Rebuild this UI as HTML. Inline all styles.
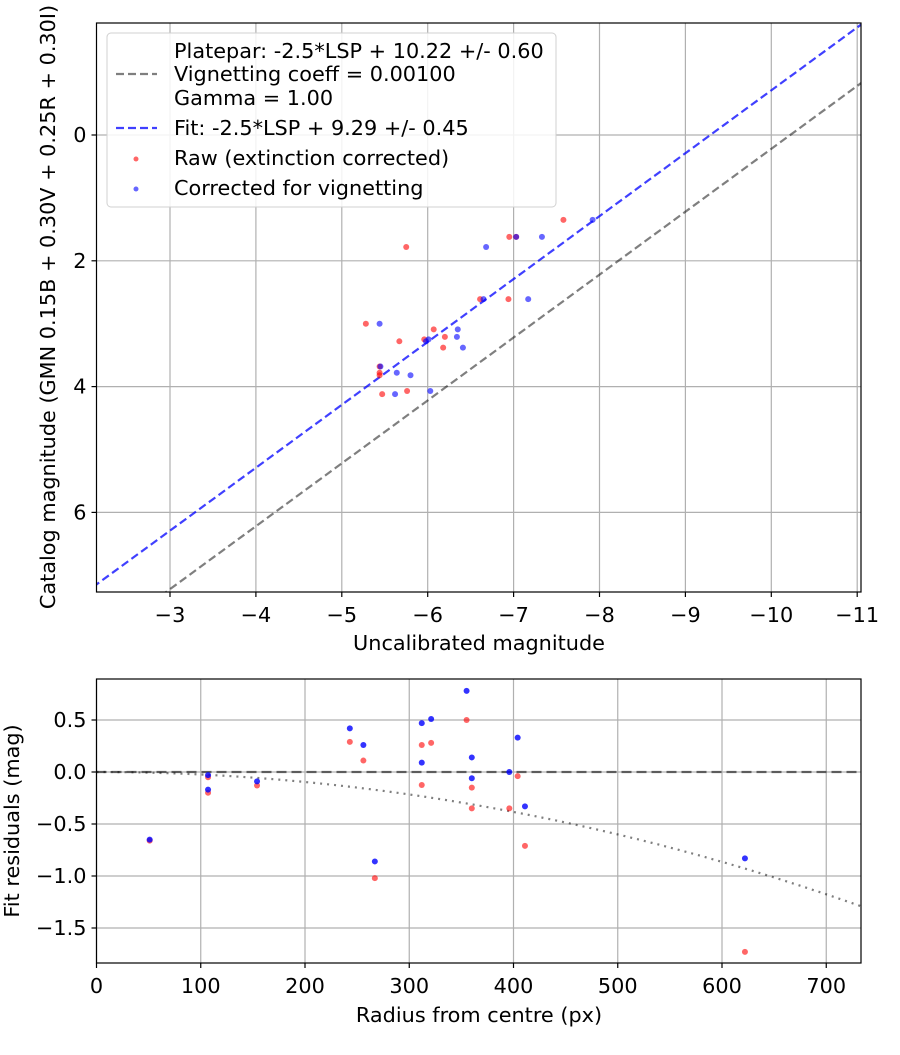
<!DOCTYPE html>
<html><head><meta charset="utf-8"><style>
body{margin:0;background:#fff}
svg{font-family:"DejaVu Sans","Liberation Sans",sans-serif}
</style></head><body>
<svg id="chart" width="900" height="1050" xmlns="http://www.w3.org/2000/svg"></svg>
<script>
// Top chart data
const catMag = [1.35,1.62,1.62,1.78,2.61,2.61,3.00,3.09,3.21,3.25,3.28,3.38,3.68,3.78,3.82,4.07,4.12];
const rawMag = [-7.58,-6.95,-7.03,-5.75,-6.61,-6.94,-5.28,-6.07,-6.20,-5.96,-5.67,-6.18,-5.44,-5.44,-5.44,-5.76,-5.47];
const corrMag = [-7.92,-7.03,-7.33,-6.68,-6.65,-7.17,-5.44,-6.35,-6.34,-6.01,-5.98,-6.41,-5.45,-5.64,-5.80,-6.03,-5.62];
const xTicks = [-3,-4,-5,-6,-7,-8,-9,-10,-11];
const yTicks = [0,2,4,6];
const plateparOffset = 10.22, fitOffset = 9.29;
// Bottom chart data
const radius = [51,107,107,154,243,256,267,312,312,321,355,360,360,396,404,411,622];
const residBlue = [-0.65,-0.03,-0.17,-0.09,0.42,0.26,-0.86,0.09,0.47,0.51,0.78,0.14,-0.06,0.0,0.33,-0.33,-0.83];
const residRed = [-0.66,-0.05,-0.20,-0.13,0.29,0.11,-1.02,-0.125,0.26,0.28,0.50,-0.15,-0.35,-0.35,-0.04,-0.71,-1.73];
const rTicks = [0,100,200,300,400,500,600,700];
const resTicks = [0.5,0.0,-0.5,-1.0,-1.5];
const vignA = 2.4e-6;

const svg = document.getElementById('chart');
const NS = 'http://www.w3.org/2000/svg';
function mk(tag, attrs, parent){const e=document.createElementNS(NS,tag);for(const k in attrs)e.setAttribute(k,attrs[k]);(parent||svg).appendChild(e);return e;}
const fmtMinus = v => String(v).replace('-', '\u2212');
const FS = 20.8;

const T = {l:96.5,r:861,t:23,b:592};
const tx = v => 170 + (-v - 3) * 85.9;
const ty = v => 135 + v * 62.9;
const B = {l:96.5,r:861,t:679,b:963};
const bx = r => 96.5 + r * 1.0425;
const by = v => 772 - v * 104;

function clip(id, A){const cp=mk('clipPath',{id:id});mk('rect',{x:A.l,y:A.t,width:A.r-A.l,height:A.b-A.t},cp);}
clip('ct',T); clip('cb',B);

xTicks.forEach(v=>{
  const g=mk('line',{x1:tx(v),x2:tx(v),y1:T.t,y2:T.b,stroke:'#b0b0b0','stroke-width':1.2});
  
  
  mk('line',{x1:tx(v),x2:tx(v),y1:T.b,y2:T.b+5,stroke:'#000','stroke-width':1.2});
  const t=mk('text',{x:tx(v),y:T.b+30,'font-size':FS,'text-anchor':'middle'});
  t.textContent=fmtMinus(v);
  
  
});
yTicks.forEach(v=>{
  const g=mk('line',{x1:T.l,x2:T.r,y1:ty(v),y2:ty(v),stroke:'#b0b0b0','stroke-width':1.2});
  
  
  mk('line',{x1:T.l-5,x2:T.l,y1:ty(v),y2:ty(v),stroke:'#000','stroke-width':1.2});
  const t=mk('text',{x:T.l-10,y:ty(v)+7,'font-size':FS,'text-anchor':'end'});
  t.textContent=fmtMinus(v);
  
  
});
function magLine(off,color,name){
  const x1=-2.1,x2=-11.1;
  const l=mk('line',{x1:tx(x1),y1:ty(x1+off),x2:tx(x2),y2:ty(x2+off),stroke:color,'stroke-width':2.2,'stroke-dasharray':'8,4','clip-path':'url(#ct)'});
  
  
}
magLine(plateparOffset,'rgba(0,0,0,0.5)','platepar-line');
magLine(fitOffset,'rgba(0,0,255,0.75)','fit-line');
rawMag.forEach((v,i)=>{
  const c=mk('circle',{cx:tx(v),cy:ty(catMag[i]),r:3,fill:'rgba(255,0,0,0.6)'});
  
  
});
corrMag.forEach((v,i)=>{
  const c=mk('circle',{cx:tx(v),cy:ty(catMag[i]),r:3,fill:'rgba(0,0,255,0.6)'});
  
  
});
const fr=mk('rect',{x:T.l,y:T.t,width:T.r-T.l,height:T.b-T.t,fill:'none',stroke:'#000','stroke-width':1.2});



const lg=mk('g',{});


mk('rect',{x:107,y:33,width:449,height:174,rx:4,fill:'rgba(255,255,255,0.85)',stroke:'#d0d0d0','stroke-width':1},lg);
[['Platepar: -2.5*LSP + 10.22 +/- 0.60',57],['Vignetting coeff = 0.00100',80],['Gamma = 1.00',104],['Fit: -2.5*LSP + 9.29 +/- 0.45',134],['Raw (extinction corrected)',164],['Corrected for vignetting',194]].forEach(([s,y])=>{
  const t=mk('text',{x:174,y:y+1,'font-size':FS},lg);t.textContent=s;
  
  
});
mk('line',{x1:116,x2:157,y1:74,y2:74,stroke:'rgba(0,0,0,0.5)','stroke-width':2.2,'stroke-dasharray':'8,4'},lg);
mk('line',{x1:116,x2:157,y1:128,y2:128,stroke:'rgba(0,0,255,0.75)','stroke-width':2.2,'stroke-dasharray':'8,4'},lg);
mk('circle',{cx:136,cy:159,r:2.5,fill:'rgba(255,0,0,0.6)'},lg);
mk('circle',{cx:136,cy:189,r:2.5,fill:'rgba(0,0,255,0.6)'},lg);

let t=mk('text',{x:479,y:650,'font-size':FS,'text-anchor':'middle'});t.textContent='Uncalibrated magnitude';

t=mk('text',{x:0,y:0,'font-size':FS,'text-anchor':'middle',transform:'translate(55,307) rotate(-90)'});t.textContent='Catalog magnitude (GMN 0.15B + 0.30V + 0.25R + 0.30I)';


rTicks.forEach(v=>{
  const g=mk('line',{x1:bx(v),x2:bx(v),y1:B.t,y2:B.b,stroke:'#b0b0b0','stroke-width':1.2});
  
  
  mk('line',{x1:bx(v),x2:bx(v),y1:B.b,y2:B.b+5,stroke:'#000','stroke-width':1.2});
  const tt=mk('text',{x:bx(v),y:B.b+30,'font-size':FS,'text-anchor':'middle'});tt.textContent=v;
  
  
});
resTicks.forEach(v=>{
  const g=mk('line',{x1:B.l,x2:B.r,y1:by(v),y2:by(v),stroke:'#b0b0b0','stroke-width':1.2});
  
  
  mk('line',{x1:B.l-5,x2:B.l,y1:by(v),y2:by(v),stroke:'#000','stroke-width':1.2});
  const tt=mk('text',{x:B.l-10,y:by(v)+7,'font-size':FS,'text-anchor':'end'});tt.textContent=fmtMinus(v.toFixed(1));
  
  
});
let zl=mk('line',{x1:B.l,x2:B.r,y1:by(0),y2:by(0),stroke:'rgba(0,0,0,0.55)','stroke-width':2.2,'stroke-dasharray':'10,5'});

let pts=[];for(let r=0;r<=740;r+=5)pts.push(bx(r)+','+by(-vignA*r*r));
let vc=mk('polyline',{points:pts.join(' '),fill:'none',stroke:'rgba(0,0,0,0.5)','stroke-width':2.2,'stroke-dasharray':'2,5','clip-path':'url(#cb)'});

residRed.forEach((v,i)=>{
  const c=mk('circle',{cx:bx(radius[i]),cy:by(v),r:3,fill:'rgba(255,0,0,0.6)'});
  
  
});
residBlue.forEach((v,i)=>{
  const c=mk('circle',{cx:bx(radius[i]),cy:by(v),r:3,fill:'rgba(0,0,255,0.8)'});
  
  
});
const fb=mk('rect',{x:B.l,y:B.t,width:B.r-B.l,height:B.b-B.t,fill:'none',stroke:'#000','stroke-width':1.2});

t=mk('text',{x:479,y:1022,'font-size':FS,'text-anchor':'middle'});t.textContent='Radius from centre (px)';

t=mk('text',{x:0,y:0,'font-size':FS,'text-anchor':'middle',transform:'translate(19,821) rotate(-90)'});t.textContent='Fit residuals (mag)';

</script>
</body></html>
